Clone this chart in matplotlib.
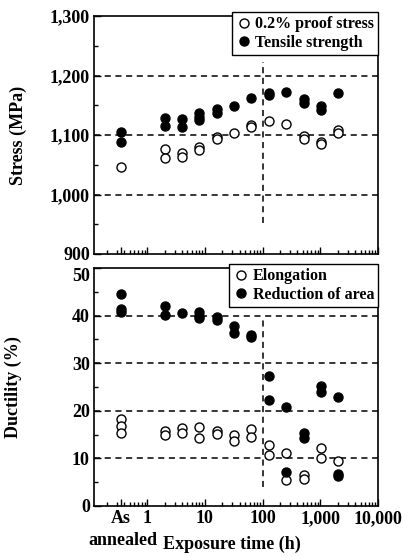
import matplotlib
matplotlib.use("Agg")
import matplotlib.pyplot as plt
from matplotlib.ticker import FixedLocator, LogLocator, NullFormatter, MultipleLocator, FuncFormatter

plt.rcParams["font.family"] = ["Liberation Serif", "DejaVu Serif"]
plt.rcParams["font.weight"] = "bold"

# exposure times (h); "As annealed" drawn at 0.35 on the log axis
AS_X = 0.35
ts_x = [AS_X, AS_X, 2, 2, 4, 4, 8, 8, 8, 16, 16, 32, 64, 128, 128, 256, 512, 512, 1024, 1024, 2048]
ts_y = [1105, 1089, 1129, 1115, 1127, 1114, 1137, 1131, 1126, 1143, 1137, 1149, 1163, 1171, 1167, 1173, 1161, 1153, 1149, 1142, 1170]

ps_x = [AS_X, 2, 2, 4, 4, 8, 8, 16, 16, 32, 64, 64, 128, 256, 512, 512, 1024, 1024, 2048, 2048]
ps_y = [1047, 1076, 1062, 1070, 1063, 1080, 1074, 1097, 1093, 1103, 1117, 1114, 1124, 1119, 1099, 1094, 1088, 1085, 1109, 1103]

ra_x = [AS_X, AS_X, AS_X, 2, 2, 4, 8, 8, 8, 16, 16, 32, 32, 64, 64, 128, 128, 256, 256, 512, 512, 1024, 1024, 2048, 2048, 2048]
ra_y = [44.5, 41.4, 40.8, 42.1, 40.1, 40.5, 40.7, 40.0, 39.4, 39.7, 39.1, 37.9, 36.3, 36.0, 35.5, 27.3, 22.2, 20.8, 7.1, 15.4, 14.2, 25.2, 23.9, 22.9, 6.7, 6.2]

el_x = [AS_X, AS_X, AS_X, 2, 2, 4, 4, 8, 8, 16, 16, 32, 32, 64, 64, 128, 128, 256, 256, 512, 512, 1024, 1024, 2048]
el_y = [18.3, 16.8, 15.3, 15.7, 14.9, 16.4, 15.4, 16.6, 14.2, 15.7, 15.2, 14.9, 13.7, 16.2, 14.5, 12.8, 10.8, 11.2, 5.5, 6.6, 5.6, 12.1, 10.1, 9.4]

x_ticks = [AS_X, 1, 10, 100, 1000, 10000]
x_labels = ["As", "1", "10", "100", "1,000", "10,000"]

W, H = 408, 557
fig = plt.figure(figsize=(W / 100, H / 100), dpi=100)
# axes boxes in pixels (left, top, right, bottom) -> figure fractions
ax1 = fig.add_axes([94 / W, 1 - 254 / H, (378 - 94) / W, (254 - 16) / H])
ax2 = fig.add_axes([94 / W, 1 - 506 / H, (378 - 94) / W, (506 - 268) / H])

dash = dict(color="black", linestyle=(0, (4, 3)), linewidth=1.1, zorder=1)
mk = dict(linestyle="none", marker="o", markersize=6.5, markeredgecolor="black",
          markeredgewidth=1.0, zorder=3)


def style_axis(ax):
    ax.set_xscale("log")
    ax.set_xlim(0.12, 10000)
    ax.xaxis.set_major_locator(FixedLocator(x_ticks))
    ax.xaxis.set_minor_locator(LogLocator(base=10, subs=range(2, 10), numticks=20))
    ax.xaxis.set_minor_formatter(NullFormatter())
    ax.tick_params(which="both", direction="in", width=1, labelsize=13, pad=3)
    ax.tick_params(which="major", length=5)
    ax.tick_params(which="minor", length=3)
    ax.tick_params(axis="x", which="both", top=False)
    for s in ax.spines.values():
        s.set_linewidth(1.2)


def add_legend(ax):
    leg = ax.legend(loc="upper right", bbox_to_anchor=(1.0, 1.015), borderaxespad=0,
                    handletextpad=0.2, handlelength=1.0, fancybox=False, framealpha=1,
                    prop={"size": 11.5, "weight": "bold"}, borderpad=0.25,
                    labelspacing=0.15)
    leg.get_frame().set_edgecolor("black")
    leg.get_frame().set_linewidth(1.0)


# --- stress panel ---
style_axis(ax1)
ax1.set_ylim(900, 1300)
ax1.yaxis.set_major_locator(MultipleLocator(100))
ax1.yaxis.set_minor_locator(MultipleLocator(50))
ax1.yaxis.set_major_formatter(FuncFormatter(lambda v, p: f"{int(v):,}"))
ax1.set_xticklabels([])
for g in [1000, 1100, 1200]:
    ax1.axhline(g, **dash)
ax1.plot([100, 100], [952, 1223], **dash)
ax1.plot(ps_x, ps_y, markerfacecolor="white", label="0.2% proof stress", **mk)
ax1.plot(ts_x, ts_y, markerfacecolor="black", label="Tensile strength", **mk)
ax1.set_ylabel("Stress (MPa)", fontsize=13, fontweight="bold", labelpad=16)
add_legend(ax1)

# --- ductility panel ---
style_axis(ax2)
ax2.set_ylim(0, 50)
ax2.yaxis.set_major_locator(MultipleLocator(10))
ax2.yaxis.set_minor_locator(MultipleLocator(5))
ax2.set_xticklabels(x_labels)
for g in [10, 20, 30, 40]:
    ax2.axhline(g, **dash)
ax2.plot([100, 100], [4, 40], **dash)
ax2.plot(el_x, el_y, markerfacecolor="white", label="Elongation", **mk)
ax2.plot(ra_x, ra_y, markerfacecolor="black", label="Reduction of area", **mk)
ax2.set_ylabel("Ductility (%)", fontsize=13, fontweight="bold", labelpad=36)
add_legend(ax2)

# the top "50" label sits a little below the axis top in the original
fig.canvas.draw()
for lab in ax2.get_yticklabels():
    if lab.get_text() == "50":
        lab.set_va("top")

# second line of the "As annealed" tick label
fig.text(123 / W, 1 - 532 / H, "annealed", ha="center", va="top",
         fontsize=13, fontweight="bold")
fig.text(232 / W, 0.008, "Exposure time (h)", ha="center", va="bottom",
         fontsize=13, fontweight="bold")

fig.savefig("out.png", dpi=100)
